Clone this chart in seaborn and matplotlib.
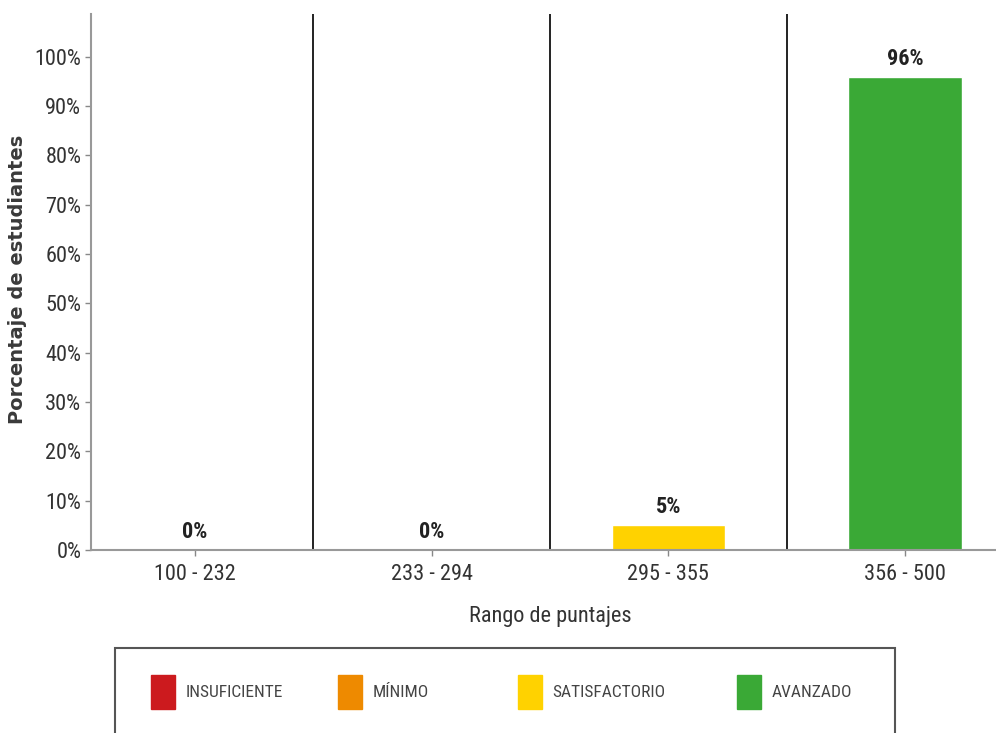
import matplotlib
matplotlib.use("Agg")
import matplotlib.pyplot as plt
from matplotlib import font_manager
from matplotlib.font_manager import FontProperties
import seaborn as sns
import pandas as pd
from matplotlib.patches import Patch, Rectangle

categories = ["100 - 232", "233 - 294", "295 - 355", "356 - 500"]
values = [0, 0, 5, 96]
levels = ["INSUFICIENTE", "MÍNIMO", "SATISFACTORIO", "AVANZADO"]
level_colors = ["#CC1A1E", "#EE8A00", "#FFD200", "#3AA936"]
y_ticks = [0, 10, 20, 30, 40, 50, 60, 70, 80, 90, 100]
y_tick_labels = ["0%", "10%", "20%", "30%", "40%", "50%", "60%", "70%", "80%", "90%", "100%"]

sns.set_theme(style="white")

installed = {f.name for f in font_manager.fontManager.ttflist}
narrow_pick = None
for cand in ["Liberation Sans Narrow", "Roboto Condensed", "Noto Sans Condensed",
             "Open Sans Condensed", "DejaVu Sans Condensed", "Lato"]:
    if cand in installed:
        narrow_pick = cand
        break
if narrow_pick is None:
    narrow_pick = "DejaVu Sans"
narrow = [narrow_pick, "DejaVu Sans"]
plt.rcParams["font.family"] = narrow

# wide, letter-spaced looking font for the y-axis title
ylab_fp = FontProperties(family="DejaVu Sans", size=14, weight="bold")

df = pd.DataFrame({"rango": categories, "pct": values, "nivel": levels})

fig = plt.figure(figsize=(9.96, 7.33), dpi=100)
ax = fig.add_axes([0.0914, 0.2497, 0.9086, 0.7313])

sns.barplot(data=df, x="rango", y="pct", hue="nivel", order=categories,
            hue_order=levels, palette=level_colors, dodge=False, width=0.48,
            legend=False, ax=ax, saturation=1)

for cont in ax.containers:
    labels = [f"{v:.0f}%" for v in cont.datavalues]
    ax.bar_label(cont, labels=labels, padding=5, fontsize=16, fontweight="bold",
                 color="#222222")

for i in range(len(categories) - 1):
    ax.axvline(i + 0.5, color="#222222", lw=1.4, zorder=0)

ax.set_xlim(-0.439, 3.384)
ax.set_ylim(0, 108.7)
ax.set_yticks(y_ticks)
ax.set_yticklabels(y_tick_labels)
ax.tick_params(axis="both", labelsize=16, colors="#888888", length=4, width=1,
               labelcolor="#333333", pad=3, left=True, bottom=True)
ax.tick_params(axis="x", pad=6)
for s in ["top", "right"]:
    ax.spines[s].set_visible(False)
for s in ["left", "bottom"]:
    ax.spines[s].set_color("#999999")
    ax.spines[s].set_linewidth(1.5)

ax.set_xlabel("Rango de puntajes", fontsize=16, color="#333333")
ax.xaxis.set_label_coords(0.507, -0.105)
ax.set_ylabel("Porcentaje de estudiantes", fontproperties=ylab_fp, color="#3a3a3a")
ax.yaxis.set_label_coords(-0.071, 0.504)

# legend box (bottom edge cropped off the figure, as in the original)
box = Rectangle((115 / 996, -0.05), (895 - 115) / 996, 1 - 648 / 733 + 0.05,
                transform=fig.transFigure, fill=False, edgecolor="#555555",
                lw=1.5, clip_on=False)
fig.patches.append(box)

entry_x = [151, 338, 518, 737]
for c, l, xpx in zip(level_colors, levels, entry_x):
    fig.legend(handles=[Patch(facecolor=c, edgecolor=c, label=l)], loc="center left",
               bbox_to_anchor=(xpx / 996, 1 - 692 / 733), frameon=False, fontsize=12.5,
               handlelength=1.4, handleheight=2.6, handletextpad=0.6,
               borderpad=0, borderaxespad=0, labelcolor="#444444")

fig.savefig("out.png", dpi=100)
